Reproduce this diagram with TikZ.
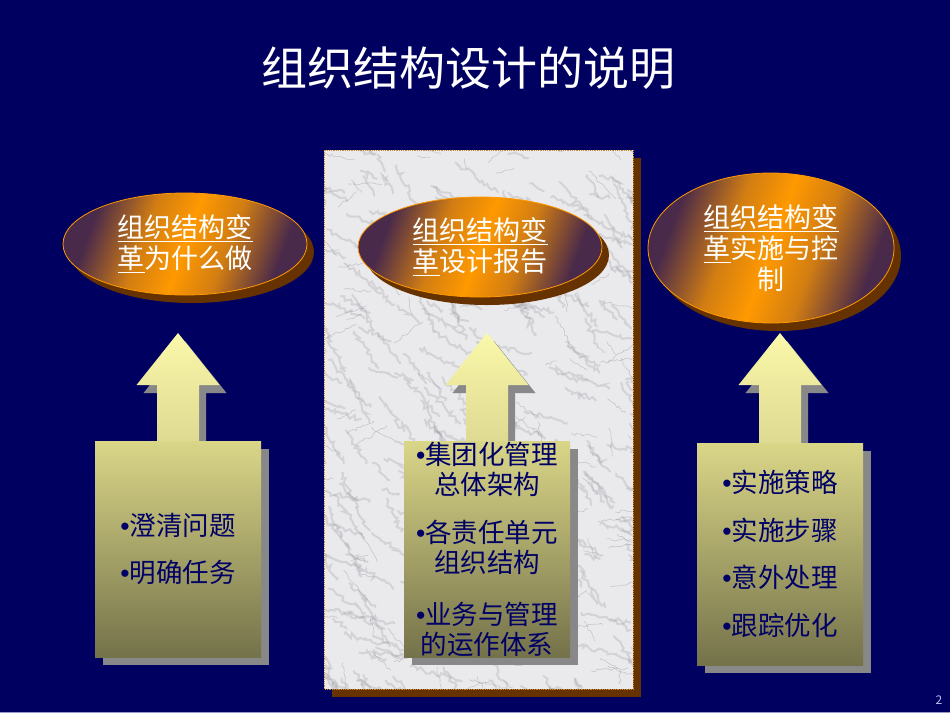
\documentclass[tikz,border=0pt]{standalone}
\usepackage{fontspec}
\setmainfont{Noto Sans CJK SC}
\newfontfamily\bulletfont{Liberation Sans}
\usetikzlibrary{shapes.geometric,shadows,calc,decorations.pathmorphing}
\definecolor{bg}{RGB}{0,0,96}
\definecolor{epurple}{RGB}{74,42,74}
\definecolor{eorange}{RGB}{255,153,0}
\definecolor{ebrown}{RGB}{102,51,0}
\definecolor{atop}{RGB}{250,248,170}
\definecolor{abot}{RGB}{222,218,146}
\definecolor{btop}{RGB}{218,214,136}
\definecolor{bbot}{RGB}{116,114,74}
\definecolor{sgray}{RGB}{136,136,136}
\definecolor{navytext}{RGB}{0,0,102}
\definecolor{marble}{RGB}{234,234,236}
\definecolor{vein}{RGB}{130,130,142}
\definecolor{rim}{RGB}{204,136,51}
\definecolor{pagenum}{RGB}{190,190,230}
\definecolor{bottomline}{RGB}{150,150,200}
\pgfdeclareverticalshading{ellshade}{100bp}{color(0bp)=(epurple); color(27bp)=(epurple); color(40bp)=(eorange!75!epurple); color(50bp)=(eorange); color(60bp)=(eorange!75!epurple); color(73bp)=(epurple); color(100bp)=(epurple)}
\newcommand{\bul}{{\bulletfont •}}
\newcommand{\arrshadow}[2]{($(#1)+(7,8)$) -- ($(#1)+(48.5,60)$) -- ($(#1)+(28,60)$) -- ($(#2)+(28,0)$) -- ($(#2)+(-14,0)$) -- ($(#1)+(-14,60)$) -- ($(#1)+(-34.5,60)$) -- cycle}
\newcommand{\arrbody}[2]{(#1) -- ($(#1)+(41.5,52)$) -- ($(#1)+(21,52)$) -- ($(#2)+(21,0)$) -- ($(#2)+(-21,0)$) -- ($(#1)+(-21,52)$) -- ($(#1)+(-41.5,52)$) -- cycle}
\begin{document}
\begin{tikzpicture}[x=1pt,y=-1pt,
  ell/.style={ellipse, inner sep=0pt, draw=eorange, line width=0.8pt,
    shading=ellshade, shading angle=70,
    text=white, font=\fontsize{27}{31}\selectfont, align=center,
    drop shadow={shadow xshift=7pt, shadow yshift=-8pt, fill=ebrown, opacity=1}},
  bx/.style={rectangle, inner sep=0pt, top color=btop, bottom color=bbot,
    text=navytext, align=center, minimum width=166pt,
    drop shadow={shadow xshift=8pt, shadow yshift=-8pt, fill=sgray, opacity=1}},
  arrfill/.style={top color=atop, bottom color=abot},
  softvein/.style={vein, line width=2pt, opacity=0.22, line cap=round, decorate,
    decoration={random steps, segment length=3pt, amplitude=2.5pt}},
  thinvein/.style={vein, line width=0.5pt, opacity=0.4, decorate,
    decoration={random steps, segment length=3pt, amplitude=1.5pt}}]
\useasboundingbox (0,0) rectangle (950,713);
\fill[bg] (0,0) rectangle (950,713);
\fill[bottomline] (0,711.5) rectangle (950,713);

% title
\node[text=white, font=\fontsize{46}{50}\selectfont] (title) at (468,68) {组织结构设计的说明};

% middle marble panel
\fill[ebrown] (332,158) rectangle (641,697);
\begin{scope}
  \clip (324,150) rectangle (633,689);
  \fill[marble] (324,150) rectangle (633,689);
  \pgfmathsetseed{12}
  \foreach \i in {1,...,300}{
    \pgfmathsetmacro{\sx}{304+rnd*340}
    \pgfmathsetmacro{\sy}{140+rnd*570}
    \pgfmathsetmacro{\an}{10+rnd*60}
    \pgfmathsetmacro{\ln}{15+rnd*40}
    \draw[softvein] (\sx,\sy) -- ++(\an:\ln);
  }
  \foreach \i in {1,...,160}{
    \pgfmathsetmacro{\sx}{304+rnd*340}
    \pgfmathsetmacro{\sy}{140+rnd*570}
    \pgfmathsetmacro{\an}{-40+rnd*130}
    \pgfmathsetmacro{\ln}{10+rnd*30}
    \draw[thinvein] (\sx,\sy) -- ++(\an:\ln);
  }
\end{scope}
\draw[rim, line width=0.8pt, densely dotted] (324,150) rectangle (633,689);

% boxes
\node[bx, minimum height=216pt, font=\fontsize{26.5}{47}\selectfont] (b1) at (178,549)
  {\bul 澄清问题\\\bul 明确任务};
\node[bx, minimum height=216pt, font=\fontsize{26.5}{30}\selectfont] (b2) at (487,549)
  {\bul 集团化管理\\总体架构\\[18pt]\bul 各责任单元\\组织结构\\[22pt]\bul 业务与管理\\的运作体系};
\node[bx, minimum height=222pt, font=\fontsize{26.5}{47.5}\selectfont] (b3) at (780,554)
  {\bul 实施策略\\\bul 实施步骤\\\bul 意外处理\\\bul 跟踪优化};

% arrows
\coordinate (tipy) at (0,333);
\foreach \b in {b1,b2,b3}{
  \coordinate (\b t) at (\b.north |- tipy);
  \fill[sgray] \arrshadow{\b t}{\b.north};
  \shade[arrfill] \arrbody{\b t}{\b.north};
}

% ellipses
\node[ell, minimum width=244pt, minimum height=102pt] (e1) at (185,244)
  {\underline{组织结构变}\\\underline{革}为什么做};
\node[ell, minimum width=244pt, minimum height=100pt] (e2) at (480,247)
  {\underline{组织结构变}\\\underline{革}设计报告};
\node[ell, minimum width=246pt, minimum height=150pt] (e3) at (771,248)
  {\underline{组织结构变}\\\underline{革}实施与控\\制};

% page number
\node[text=pagenum, font=\fontsize{12}{14}\selectfont] (pg) at (939,700) {2};
\end{tikzpicture}
\end{document}
